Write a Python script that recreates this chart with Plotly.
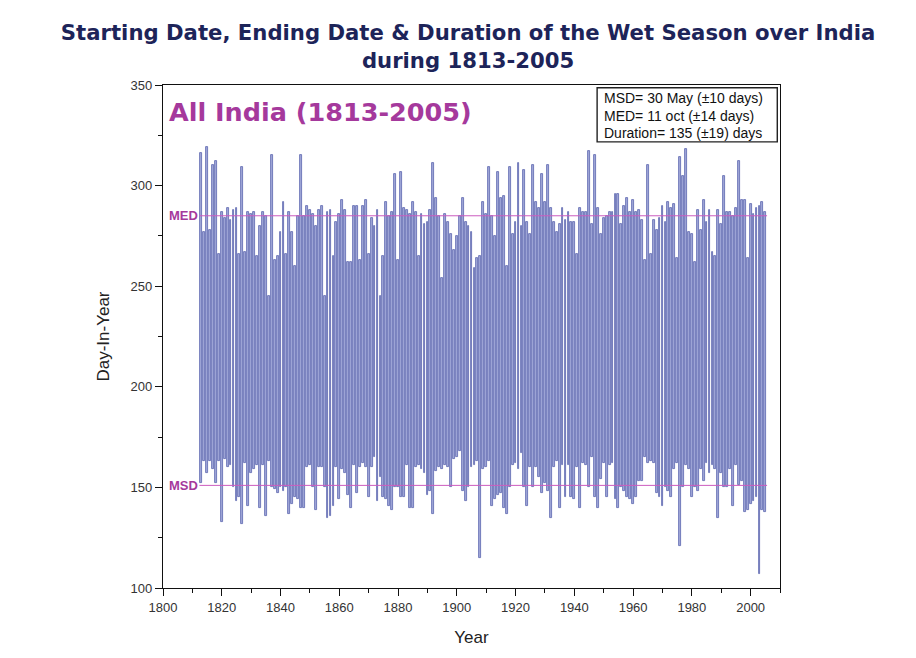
import plotly.graph_objects as go

# Onset (start) and withdrawal (end) day-of-year of the wet season, 1813-2005
years = list(range(1813, 2006))

start_day = [
    152, 163, 157, 163, 159, 152, 163,
    133, 164, 160, 161, 150, 143, 145, 132, 162, 141,
    157, 159, 161, 140, 161, 136, 163, 150, 149, 147,
    150, 148, 150, 137, 142, 145, 144, 140, 140, 160,
    161, 150, 139, 160, 160, 150, 135, 136, 141, 160,
    144, 159, 157, 146, 140, 161, 147, 160, 162, 160,
    145, 160, 165, 143, 155, 145, 144, 141, 139, 150,
    150, 145, 145, 161, 140, 140, 160, 161, 159, 157,
    146, 148, 137, 158, 160, 159, 161, 160, 150, 164,
    165, 168, 148, 143, 150, 160, 161, 163, 115, 159,
    160, 163, 141, 144, 146, 147, 140, 137, 150, 161,
    162, 159, 167, 150, 141, 160, 150, 160, 155, 147,
    152, 148, 135, 160, 163, 140, 161, 145, 161, 145,
    144, 160, 140, 162, 161, 150, 165, 145, 140, 154,
    162, 145, 161, 162, 144, 140, 150, 148, 145, 144,
    142, 145, 153, 153, 165, 162, 163, 162, 147, 145,
    141, 150, 148, 145, 159, 162, 121, 150, 161, 159,
    145, 150, 148, 159, 153, 162, 157, 161, 159, 135,
    157, 150, 150, 159, 141, 161, 151, 153, 138, 139,
    142, 143, 145, 107, 139, 138,
]

end_day = [
    316, 277, 319, 278, 310, 312, 266,
    287, 284, 289, 283, 288, 289, 266, 309, 267, 287,
    286, 287, 265, 280, 287, 285, 245, 315, 263, 265,
    277, 292, 266, 287, 277, 260, 285, 315, 285, 290,
    288, 286, 280, 288, 290, 245, 287, 288, 265, 282,
    286, 293, 288, 262, 262, 290, 290, 263, 290, 293,
    266, 284, 280, 288, 245, 265, 292, 285, 287, 306,
    263, 307, 289, 288, 286, 292, 287, 265, 286, 281,
    282, 288, 311, 294, 285, 254, 286, 282, 276, 268,
    275, 285, 294, 282, 280, 277, 259, 264, 265, 292,
    286, 309, 285, 275, 307, 294, 295, 260, 309, 276,
    282, 311, 280, 308, 282, 276, 310, 292, 289, 306,
    292, 310, 289, 282, 277, 281, 289, 283, 287, 282,
    282, 266, 289, 287, 287, 317, 281, 315, 289, 276,
    284, 285, 287, 287, 296, 296, 281, 290, 294, 287,
    293, 287, 288, 283, 263, 310, 266, 283, 278, 284,
    290, 282, 292, 289, 291, 264, 314, 305, 318, 277,
    276, 262, 288, 278, 293, 282, 288, 267, 265, 288,
    281, 305, 287, 287, 285, 289, 312, 293, 293, 264,
    291, 286, 289, 290, 292, 287,
]

assert len(start_day) == len(years) == len(end_day)

# Mean start / end dates (day of year) and the summary text
mean_lines = {"MED": 285, "MSD": 151}
summary_lines = [
    "MSD= 30 May (±10 days)",
    "MED= 11 oct (±14 days)",
    "Duration= 135 (±19) days",
]

duration = [e - s for s, e in zip(start_day, end_day)]

BAR_FILL = "#a2a9d9"
BAR_EDGE = "#5a64ad"
MAGENTA = "#a5399c"
NAVY = "#1d2459"
TEXT_FONT = "Liberation Sans, Arial"

fig = go.Figure()
fig.add_trace(go.Bar(
    x=years,
    y=duration,
    base=start_day,
    width=0.62,
    marker=dict(color=BAR_FILL, line=dict(color=BAR_EDGE, width=0.8)),
    showlegend=False,
))

shapes = []
annotations = []
for label, day in mean_lines.items():
    shapes.append(dict(
        type="line", xref="x", yref="y",
        x0=1812.4, x1=2005.6, y0=day, y1=day,
        line=dict(color="#cc5cbf", width=1), layer="above",
    ))
    annotations.append(dict(
        x=1812.2, y=day, xref="x", yref="y",
        text=f"<b>{label}</b>", showarrow=False,
        xanchor="right", yanchor="middle", xshift=1,
        font=dict(family=TEXT_FONT, size=13, color=MAGENTA),
    ))

annotations.append(dict(
    x=0.007, y=0.947, xref="paper", yref="paper",
    text="<b>All India (1813-2005)</b>", showarrow=False,
    xanchor="left", yanchor="middle",
    font=dict(family="DejaVu Sans", size=25.5, color=MAGENTA),
))

# Summary box in the upper-right corner of the plot
shapes.append(dict(
    type="rect", xref="paper", yref="paper",
    x0=0.7036, x1=0.9956, y0=0.887, y1=0.9944,
    line=dict(color="#222222", width=1.4), fillcolor="white", layer="above",
))
for i, line in enumerate(summary_lines):
    annotations.append(dict(
        x=0.7118, y=0.9745 - i * 0.0352, xref="paper", yref="paper",
        text=line, showarrow=False,
        xanchor="left", yanchor="middle",
        font=dict(family=TEXT_FONT, size=14, color="#111111"),
    ))

axis_common = dict(
    showgrid=False, zeroline=False,
    showline=True, linecolor="#111111", linewidth=1.3, mirror=True,
    ticks="outside", ticklen=7, tickwidth=1.2, tickcolor="#111111",
    tickfont=dict(family=TEXT_FONT, size=13, color="#333333"),
)

fig.update_layout(
    width=916, height=658,
    margin=dict(l=163, r=136, t=85, b=70),
    paper_bgcolor="white", plot_bgcolor="white",
    title=dict(
        text="<b>Starting Date, Ending Date & Duration of the Wet Season over India<br>during 1813-2005</b>",
        x=0.511, y=0.939, xanchor="center", yanchor="middle",
        font=dict(family="DejaVu Sans", size=21.2, color=NAVY),
    ),
    xaxis=dict(
        range=[1800, 2010], tick0=1800, dtick=20,
        minor=dict(dtick=10, ticks="outside", ticklen=4, tickcolor="#111111"),
        title=dict(text="Year", standoff=17,
                   font=dict(family=TEXT_FONT, size=17, color="#222222")),
        **axis_common,
    ),
    yaxis=dict(
        range=[100, 350], tick0=100, dtick=50,
        minor=dict(dtick=25, ticks="outside", ticklen=4, tickcolor="#111111"),
        title=dict(text="Day-In-Year", standoff=16,
                   font=dict(family=TEXT_FONT, size=17, color="#222222")),
        **axis_common,
    ),
    shapes=shapes,
    annotations=annotations,
    bargap=0,
)

fig.write_html("out.html")
